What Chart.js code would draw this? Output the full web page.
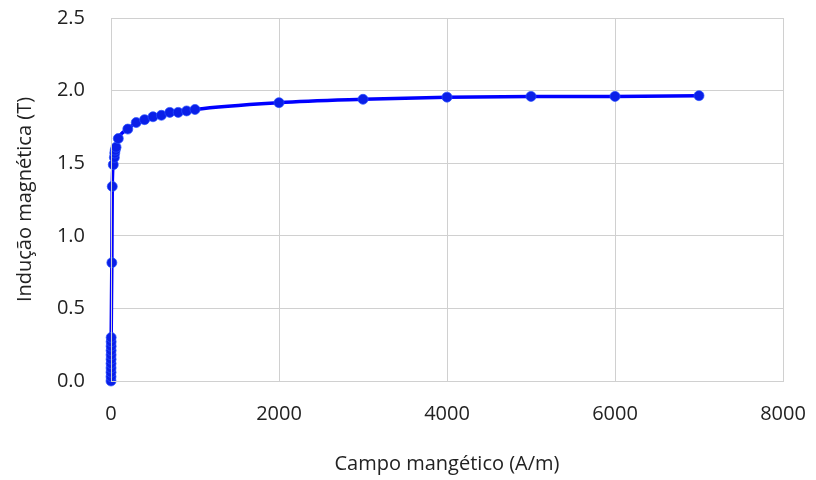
<!DOCTYPE html>
<html>
<head>
<meta charset="utf-8">
<script src="https://cdn.jsdelivr.net/npm/chart.js@4/dist/chart.umd.min.js"></script>
<style>
  html, body { margin: 0; padding: 0; background: #fff; }
  #wrap { width: 816px; height: 480px; position: relative; }
</style>
</head>
<body>
<div id="wrap"><canvas id="grafico"></canvas></div>
<script>
// curva B-H
const campoH = [0, 0.2, 0.4, 0.6, 0.8, 1, 1.2, 1.4, 1.6, 1.8, 2, 10, 15, 27, 40, 45, 50, 60, 87,
  200, 300, 400, 500, 600, 700, 800, 900, 1000, 2000, 3000, 4000, 5000, 6000, 7000]
const inducaoB = [0, 0.03, 0.06, 0.09, 0.12, 0.15, 0.18, 0.21, 0.24, 0.27, 0.3, 0.815, 1.34, 1.49, 1.54, 1.57, 1.59, 1.61, 1.67,
  1.735, 1.78, 1.80, 1.82, 1.83, 1.85, 1.85, 1.86, 1.87, 1.917, 1.94, 1.955, 1.96, 1.96, 1.965]
const ticksX = [0, 2000, 4000, 6000, 8000]
const ticksY = [0, 0.5, 1.0, 1.5, 2.0, 2.5]

const pontos = campoH.map((h, i) => ({ x: h, y: inducaoB[i] }))
const fonte = "'Open Sans', 'Liberation Sans', sans-serif"

new Chart(document.getElementById('grafico'), {
  type: 'scatter',
  data: {
    datasets: [{
      data: pontos,
      showLine: true,
      clip: false,
      borderColor: '#0000ff',
      borderWidth: 3.5,
      backgroundColor: '#0a1fe8',
      pointBorderColor: 'rgba(40,80,255,0.7)',
      pointBorderWidth: 1,
      pointRadius: 5,
      cubicInterpolationMode: 'monotone'
    }]
  },
  options: {
    responsive: true,
    maintainAspectRatio: false,
    animation: false,
    layout: { padding: { top: 18, right: 0, left: 9, bottom: 0 } },
    plugins: { legend: { display: false }, tooltip: { enabled: false } },
    scales: {
      x: {
        type: 'linear', min: 0, max: 8000,
        afterBuildTicks: ax => { ax.ticks = ticksX.map(v => ({ value: v })) },
        afterFit: ax => { ax.height = 99; ax.paddingRight = 33 },
        grid: { color: '#d0d0d0', lineWidth: 1, drawTicks: false },
        border: { color: '#d0d0d0' },
        ticks: { color: '#222', font: { family: fonte, size: 20 }, padding: 21, callback: v => String(v) },
        title: { display: true, text: 'Campo mangético (A/m)', color: '#222', font: { family: fonte, size: 20 }, padding: { top: 16 } }
      },
      y: {
        type: 'linear', min: 0, max: 2.5,
        afterBuildTicks: ax => { ax.ticks = ticksY.map(v => ({ value: v })) },
        afterFit: ax => { ax.paddingTop = 0; ax.paddingBottom = 0; ax.width = 102 },
        grid: { color: '#d0d0d0', lineWidth: 1, drawTicks: false },
        border: { color: '#d0d0d0' },
        ticks: { color: '#222', font: { family: fonte, size: 20 }, padding: 26, callback: v => v.toFixed(1) },
        title: { display: true, text: 'Indução magnética (T)', color: '#222', font: { family: fonte, size: 20 }, padding: { bottom: 0 } }
      }
    }
  },
  plugins: [{
    id: 'moldura',
    afterDraw(chart) {
      const { ctx, chartArea: a } = chart
      ctx.save()
      ctx.strokeStyle = '#d0d0d0'
      ctx.lineWidth = 1
      ctx.strokeRect(a.left + 0.5, a.top + 0.5, a.right - a.left, a.bottom - a.top)
      ctx.restore()
    }
  }]
})
</script>
</body>
</html>
